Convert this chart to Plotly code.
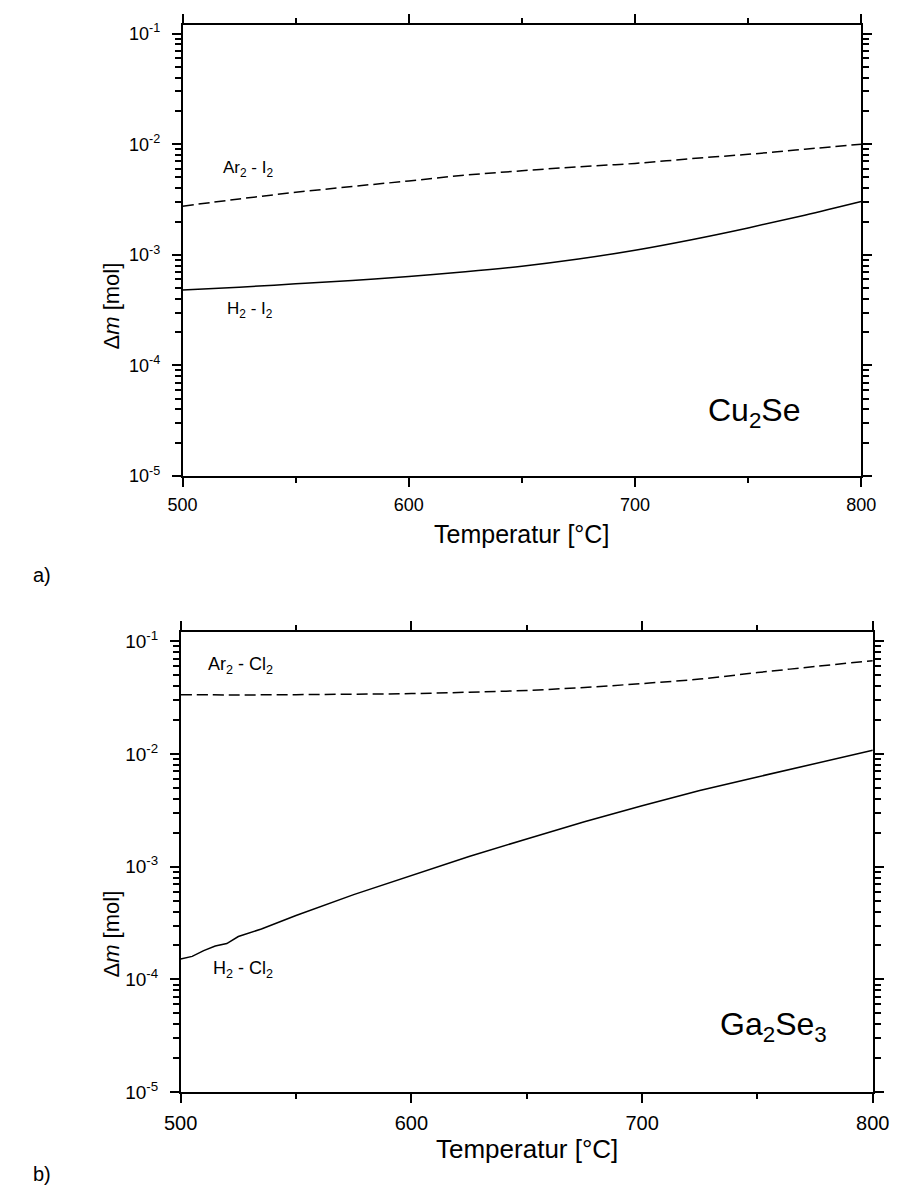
import plotly.graph_objects as go

# ---------------- data ----------------
temps_a = [500, 525, 550, 575, 600, 625, 650, 675, 700, 725, 750, 775, 800]
cu_ar_i2 = [2.75e-3, 3.2e-3, 3.67e-3, 4.15e-3, 4.65e-3, 5.25e-3, 5.75e-3, 6.25e-3,
            6.7e-3, 7.4e-3, 8.1e-3, 9.0e-3, 1.0e-2]
cu_h2_i2 = [4.8e-4, 5.1e-4, 5.46e-4, 5.87e-4, 6.38e-4, 7.03e-4, 7.89e-4, 9.16e-4,
            1.10e-3, 1.37e-3, 1.75e-3, 2.28e-3, 3.03e-3]

temps_b_ar = [500, 525, 550, 575, 600, 625, 650, 675, 700, 725, 750, 775, 800]
ga_ar_cl2 = [3.35e-2, 3.33e-2, 3.35e-2, 3.38e-2, 3.42e-2, 3.52e-2, 3.65e-2, 3.88e-2,
             4.2e-2, 4.6e-2, 5.25e-2, 5.95e-2, 6.7e-2]
temps_b_h2 = [500, 505, 510, 515, 520, 525, 535, 550, 575, 600, 625, 650, 675, 700,
              725, 750, 775, 800]
ga_h2_cl2 = [1.52e-4, 1.6e-4, 1.8e-4, 1.98e-4, 2.08e-4, 2.4e-4, 2.8e-4, 3.69e-4,
             5.65e-4, 8.4e-4, 1.23e-3, 1.76e-3, 2.5e-3, 3.47e-3, 4.73e-3, 6.24e-3,
             8.22e-3, 1.076e-2]

x_major = [500, 600, 700, 800]
x_minor = [550, 650, 750]
y_major = [1e-5, 1e-4, 1e-3, 1e-2, 1e-1]
y_major_text = ["10<sup>-5</sup>", "10<sup>-4</sup>", "10<sup>-3</sup>",
                "10<sup>-2</sup>", "10<sup>-1</sup>"]
y_minor = [k * 10.0 ** e for e in range(-5, 0) for k in range(2, 10) if k * 10.0 ** e < 0.12]

FONT = "Liberation Sans"
W, H = 910, 1198

fig = go.Figure()

line_solid = dict(color="black", width=1.5)
line_dash = dict(color="black", width=1.5, dash="11px,5px")

fig.add_trace(go.Scatter(x=temps_a, y=cu_ar_i2, mode="lines", line=line_dash,
                         line_shape="spline", xaxis="x", yaxis="y", showlegend=False))
fig.add_trace(go.Scatter(x=temps_a, y=cu_h2_i2, mode="lines", line=line_solid,
                         line_shape="spline", xaxis="x", yaxis="y", showlegend=False))
fig.add_trace(go.Scatter(x=temps_b_ar, y=ga_ar_cl2, mode="lines", line=line_dash,
                         line_shape="spline", xaxis="x2", yaxis="y2", showlegend=False))
fig.add_trace(go.Scatter(x=temps_b_h2, y=ga_h2_cl2, mode="lines", line=line_solid,
                         xaxis="x2", yaxis="y2", showlegend=False))


def xax(domain, anchor, fsize):
    return dict(domain=domain, anchor=anchor, range=[500, 800],
                tickmode="array", tickvals=x_major, ticks="outside", ticklen=9,
                tickwidth=1.5, tickcolor="black", showline=True, linecolor="black",
                linewidth=1.5, mirror="ticks", showgrid=False, zeroline=False,
                tickfont=dict(family=FONT, size=fsize, color="black"),
                ticklabelstandoff=3,
                minor=dict(tickmode="array", tickvals=x_minor, ticks="outside",
                           ticklen=5, tickwidth=1.5, tickcolor="black", showgrid=False))


def yax(domain, anchor, fsize):
    return dict(domain=domain, anchor=anchor, type="log", range=[-5, -0.92],
                tickmode="array", tickvals=y_major, ticktext=y_major_text,
                ticks="outside", ticklen=9, tickwidth=1.5, tickcolor="black",
                showline=True, linecolor="black", linewidth=1.5, mirror="ticks",
                showgrid=False, zeroline=False,
                tickfont=dict(family=FONT, size=fsize, color="black"),
                ticklabelstandoff=8,
                minor=dict(tickmode="array", tickvals=y_minor, ticks="outside",
                           ticklen=6, tickwidth=1.5, tickcolor="black", showgrid=False))


fig.update_layout(
    width=W, height=H, margin=dict(l=0, r=0, t=0, b=0),
    paper_bgcolor="white", plot_bgcolor="white",
    xaxis=xax([172 / W, 877 / W], "y", 18),
    yaxis=yax([1 - 478 / H, 1 - 21 / H], "x", 18),
    xaxis2=xax([170 / W, 889 / W], "y2", 20),
    yaxis2=yax([1 - 1102 / H, 1 - 636 / H], "x2", 19),
)

anns = []


def label(text, x, y, xref, yref, size):
    anns.append(dict(text=text, x=x, y=y, xref=xref, yref=yref, showarrow=False,
                     xanchor="center", yanchor="middle",
                     font=dict(family=FONT, size=size, color="black")))


# curve labels (data coords; y in log10 units)
label("Ar<sub>2</sub> - I<sub>2</sub>", 529, -2.22, "x", "y", 17)
label("H<sub>2</sub> - I<sub>2</sub>", 530, -3.50, "x", "y", 17)
label("Cu<sub>2</sub>Se", 753, -4.43, "x", "y", 32)
label("Ar<sub>2</sub> - Cl<sub>2</sub>", 526, -1.22, "x2", "y2", 18)
label("H<sub>2</sub> - Cl<sub>2</sub>", 527, -3.91, "x2", "y2", 18)
label("Ga<sub>2</sub>Se<sub>3</sub>", 757, -4.42, "x2", "y2", 32)

# axis titles
label("Temperatur [°C]", 0.5, 1 - 537 / H, "x domain", "paper", 25)
label("Temperatur [°C]", 0.5, 1 - 1160 / H, "x2 domain", "paper", 26)
for yc in (306, 942):
    anns.append(dict(text="Δ<i>m</i> [mol]", x=98 / W, y=1 - yc / H, xref="paper",
                     yref="paper", showarrow=False, textangle=-90,
                     xanchor="center", yanchor="middle",
                     font=dict(family=FONT, size=22, color="black")))

# panel letters
label("a)", 26 / W, 1 - 578 / H, "paper", "paper", 20)
label("b)", 26 / W, 1 - 1185 / H, "paper", "paper", 20)

fig.update_layout(annotations=anns)
fig.write_html("out.html")
